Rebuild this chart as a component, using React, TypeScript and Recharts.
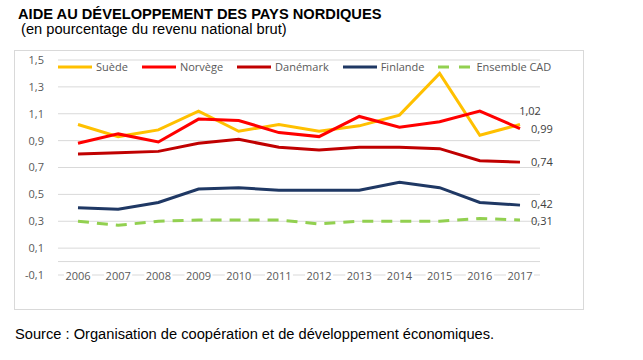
import React from 'react';
import { LineChart, Line, XAxis, YAxis, CartesianGrid, ReferenceLine, LabelList } from 'recharts';

const years = ['2006', '2007', '2008', '2009', '2010', '2011', '2012', '2013', '2014', '2015', '2016', '2017'];
const suede = [1.02, 0.93, 0.98, 1.12, 0.97, 1.02, 0.97, 1.01, 1.09, 1.40, 0.94, 1.02];
const norvege = [0.88, 0.95, 0.89, 1.06, 1.05, 0.96, 0.93, 1.08, 1.00, 1.04, 1.12, 0.99];
const danemark = [0.80, 0.81, 0.82, 0.88, 0.91, 0.85, 0.83, 0.85, 0.85, 0.84, 0.75, 0.74];
const finlande = [0.40, 0.39, 0.44, 0.54, 0.55, 0.53, 0.53, 0.53, 0.59, 0.55, 0.44, 0.42];
const ensembleCAD = [0.30, 0.27, 0.30, 0.31, 0.31, 0.31, 0.28, 0.30, 0.30, 0.30, 0.32, 0.31];
const yTicks = [-0.1, 0.1, 0.3, 0.5, 0.7, 0.9, 1.1, 1.3, 1.5];

const title = 'AIDE AU DÉVELOPPEMENT DES PAYS NORDIQUES';
const subtitle = '(en pourcentage du revenu national brut)';
const source = 'Source : Organisation de coopération et de développement économiques.';

const series = [
  { key: 'suede', name: 'Suède', color: '#FFC000', dash: undefined as string | undefined, values: suede },
  { key: 'norvege', name: 'Norvège', color: '#FF0000', dash: undefined, values: norvege },
  { key: 'danemark', name: 'Danémark', color: '#C00000', dash: undefined, values: danemark },
  { key: 'finlande', name: 'Finlande', color: '#1F3864', dash: undefined, values: finlande },
  { key: 'cad', name: 'Ensemble CAD', color: '#92D050', dash: '11 8', values: ensembleCAD },
];

const data = years.map((y, i) => {
  const row: any = { year: y };
  series.forEach((s) => { row[s.key] = s.values[i]; });
  return row;
});

const FONT = '"Open Sans", "Noto Sans", sans-serif';
const ARIAL = '"Liberation Sans", Arial, sans-serif';
const fmt = (v: number) => v.toFixed(2).replace('.', ',');
const fmtTick = (v: number) => v.toFixed(1).replace('.', ',');

const YearTick = (props: any) => {
  const { x, y, payload } = props;
  return (
    <g>
      <rect x={x - 14} y={y - 13} width={28} height={14} fill="#ffffff" />
      <text x={x} y={y - 3} textAnchor="middle" fontSize={11} fill="#595959" fontFamily={FONT}>
        {payload.value}
      </text>
    </g>
  );
};

const makeEndLabel = (key: string) => (props: any) => {
  const { x, y, index, value } = props;
  if (index !== years.length - 1) return null;
  if (key === 'suede') {
    return (
      <text x={x + 10} y={y - 10} textAnchor="middle" fontSize={11} fill="#404040" fontFamily={FONT}>
        {fmt(value)}
      </text>
    );
  }
  const nudge = key === 'finlande' ? -1.5 : key === 'cad' ? 1 : 0;
  return (
    <text x={x + 11} y={y + 4 + nudge} textAnchor="start" fontSize={11} fill="#404040" fontFamily={FONT}>
      {fmt(value)}
    </text>
  );
};

export default function App() {
  return (
    <div style={{ position: 'absolute', left: 0, top: 0, width: 643, height: 360, background: '#fff', overflow: 'hidden' }}>
      <div style={{ position: 'absolute', left: 18, top: 7, lineHeight: '15px', fontFamily: ARIAL, fontWeight: 'bold', fontSize: 14.67, color: '#000', whiteSpace: 'nowrap' }}>
        {title}
      </div>
      <div style={{ position: 'absolute', left: 21, top: 22, lineHeight: '15px', fontFamily: ARIAL, fontSize: 14.67, color: '#000', whiteSpace: 'nowrap' }}>
        {subtitle}
      </div>
      <div style={{ position: 'absolute', left: 14, top: 50, width: 570, height: 260, border: '1px solid #d9d9d9', boxSizing: 'border-box' }} />
      <div style={{ position: 'absolute', left: 0, top: 0 }}>
        <LineChart width={643} height={300} data={data} margin={{ top: 60, right: 103, bottom: 0, left: 18 }}>
          <CartesianGrid horizontal vertical={false} stroke="#d9d9d9" strokeWidth={1} />
          <XAxis dataKey="year" height={25} axisLine={false} tickLine={false} tick={<YearTick />} interval={0} padding={{ left: 20, right: 20 }} />
          <YAxis
            domain={[-0.1, 1.5]}
            ticks={yTicks}
            width={40}
            axisLine={false}
            tickLine={false}
            tickMargin={8}
            tickFormatter={fmtTick}
            tick={{ fontSize: 11, fill: '#595959', fontFamily: FONT }}
          />
          <ReferenceLine y={0} stroke="#d9d9d9" strokeWidth={1} />
          {series.map((s) => (
            <Line
              key={s.key}
              dataKey={s.key}
              name={s.name}
              type="linear"
              stroke={s.color}
              strokeWidth={3}
              strokeDasharray={s.dash}
              dot={false}
              activeDot={false}
              isAnimationActive={false}
            >
              <LabelList dataKey={s.key} content={makeEndLabel(s.key)} />
            </Line>
          ))}
        </LineChart>
      </div>
      <div style={{ position: 'absolute', left: 58, top: 59, display: 'flex', alignItems: 'center', fontFamily: FONT, fontSize: 11, color: '#595959', whiteSpace: 'nowrap' }}>
        {series.map((s) => (
          <div key={s.key} style={{ display: 'flex', alignItems: 'center', marginRight: 14 }}>
            <svg width={34} height={6} style={{ marginRight: 4 }}>
              <line x1={0} y1={3} x2={34} y2={3} stroke={s.color} strokeWidth={3} strokeDasharray={s.dash ? '11 10' : undefined} />
            </svg>
            <span>{s.name}</span>
          </div>
        ))}
      </div>
      <div style={{ position: 'absolute', left: 15, top: 326, fontFamily: ARIAL, fontSize: 14.67, color: '#000', whiteSpace: 'nowrap' }}>
        {source}
      </div>
    </div>
  );
}
